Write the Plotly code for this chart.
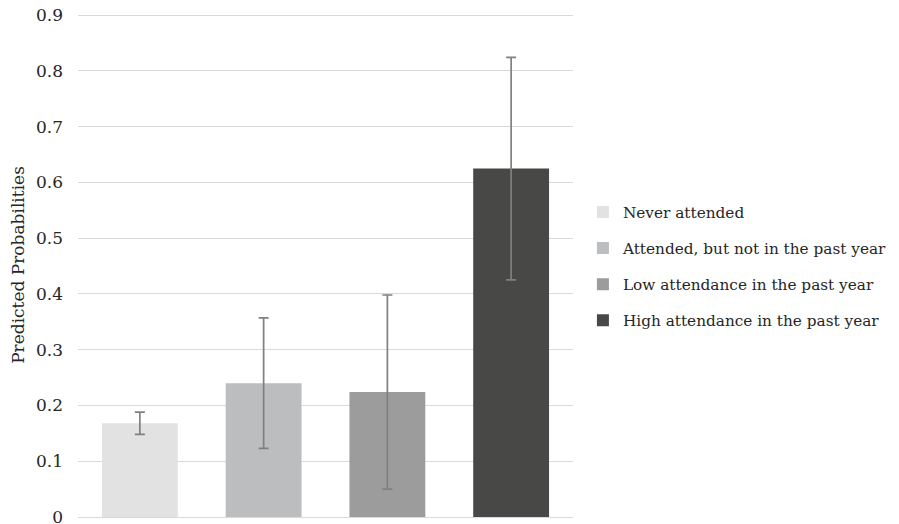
import plotly.graph_objects as go

categories = ["Never attended", "Attended, but not in the past year",
              "Low attendance in the past year", "High attendance in the past year"]
values = [0.168, 0.240, 0.224, 0.625]
err_upper = [0.188, 0.357, 0.398, 0.824]
err_lower = [0.148, 0.123, 0.050, 0.425]
colors = ["#e2e2e2", "#bcbdbf", "#9c9c9c", "#484846"]
y_ticks = [0, 0.1, 0.2, 0.3, 0.4, 0.5, 0.6, 0.7, 0.8, 0.9]
y_ticklabels = ["0", "0.1", "0.2", "0.3", "0.4", "0.5", "0.6", "0.7", "0.8", "0.9"]

FONT = "DejaVu Serif"

fig = go.Figure()
for i, cat in enumerate(categories):
    fig.add_trace(go.Bar(
        x=[cat], y=[values[i]], name=cat,
        marker=dict(color=colors[i], line=dict(width=0)),
        width=0.613,
        legendgroup=cat,
        error_y=dict(type="data", symmetric=False,
                     array=[err_upper[i] - values[i]],
                     arrayminus=[values[i] - err_lower[i]],
                     color="#808080", thickness=1.7, width=5),
    ))

fig.update_layout(
    width=899, height=524,
    paper_bgcolor="white", plot_bgcolor="white",
    margin=dict(l=78, r=325, t=13, b=7),
    barmode="overlay",
    font=dict(family=FONT, size=16, color="#262626"),
    showlegend=True,
    legend=dict(x=1.018, y=0.497, xanchor="left", yanchor="middle",
                font=dict(family=FONT, size=15.3, color="#262626"),
                tracegroupgap=13.2, itemwidth=30),
    xaxis=dict(showticklabels=False, showgrid=False, zeroline=False,
               showline=False, categoryorder="array", categoryarray=categories,
               range=[-0.5, 3.5]),
    yaxis=dict(range=[0, 0.9036], tickvals=y_ticks, ticktext=y_ticklabels,
               showgrid=True, gridcolor="#d9d9d9", gridwidth=1,
               zeroline=True, zerolinecolor="#d9d9d9", zerolinewidth=1,
               showline=False, ticklabelstandoff=14, ticklabeloverflow="allow",
               automargin="left",
               tickfont=dict(family=FONT, size=17, color="#262626"),
               title=dict(text="Predicted Probabilities", standoff=7,
                          font=dict(family=FONT, size=17, color="#262626"))),
)

fig.write_html("out.html", config={"displayModeBar": False},
               post_script="document.body.style.margin='0';")
